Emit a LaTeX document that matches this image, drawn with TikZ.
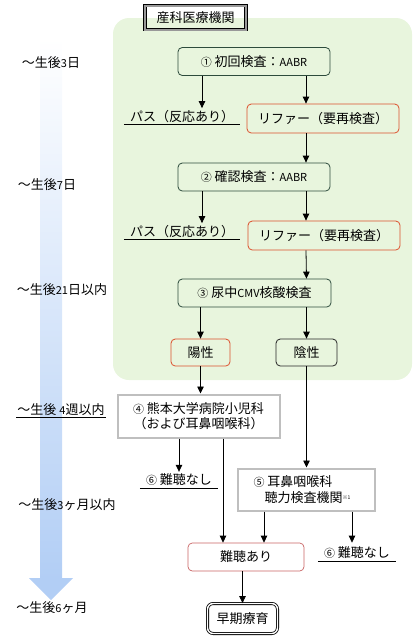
\documentclass[tikz,border=0pt]{standalone}
\usepackage{fontspec}
\setmainfont{Noto Sans CJK JP}
\usetikzlibrary{arrows.meta}
\usetikzlibrary{positioning}
\definecolor{zone}{RGB}{232,245,221}
\definecolor{checkline}{RGB}{45,75,60}
\definecolor{referline}{RGB}{220,80,45}
\definecolor{lossline}{RGB}{200,100,100}
\definecolor{timeblue}{RGB}{178,206,245}
\newcommand\sm[1]{{\fontsize{11}{12}\selectfont #1}}
\tikzset {
  % path style with an arrow at its end
  arr/.style = {
    draw = black,
    line width = 0.8pt,
    -{Triangle[length=7pt,width=6.5pt]}
  },
  % plain underline
  uline/.style = {
    draw = black,
    line width = 0.8pt
  }
}
\tikzset {
  box node/.style = {
    draw = black,
    line width = 0.8pt,
    inner sep = 0pt,
    font = \fontsize{13}{15.5}\selectfont
  },
  % examination steps
  check/.style = {
    box node,
    draw = checkline,
    rounded corners = 1.5mm,
    minimum width = 152pt,
    minimum height = 28pt
  },
  % result needing a retest
  refer/.style = {
    box node,
    draw = referline,
    rounded corners = 1.5mm,
    minimum width = 152pt,
    minimum height = 29pt
  },
  % hospital boxes
  clinic/.style = {
    box node,
    draw = black!25,
    line width = 2pt,
    align = center
  },
  % underlined text result
  pass/.style = {
    inner sep = 2pt,
    font = \fontsize{13}{15.5}\selectfont
  },
  % time scale label
  stage/.style = {
    inner sep = 1pt,
    font = \fontsize{13}{15.5}\selectfont
  }
}

\begin{document}
\begin{tikzpicture}[x=1pt, y=-1pt]
    \useasboundingbox (0,0) rectangle (418,640);

    % time arrow
    \shade[top color=white, bottom color=timeblue] (40,38) rectangle (62,579);
    \fill[timeblue] (29,578) -- (73,578) -- (51,600) -- cycle;

    % institution area
    \fill[zone, rounded corners=16pt] (113,18) rectangle (412,380);
    \node[box node, double=black!40, double distance=2pt, minimum width=101pt, minimum height=24pt] (inst) at (195.5,17.5) {産科医療機関};

    \node[stage] (t3d) at (51,63) {～生後\sm{3}日};
    \node[stage] (t7d) at (47,185) {～生後\sm{7}日};
    \node[stage] (t21d) at (62,290) {～生後\sm{21}日以内};
    \node[stage] (t4w) at (61,410) {～生後 \sm{4}週以内};
    \node[stage] (t3m) at (67,505) {～生後\sm{3}ヶ月以内};
    \node[stage] (t6m) at (52,608) {～生後\sm{6}ヶ月};
    \draw[uline] (t4w.south west) -- (t4w.south east);

    \node[check] (check1) at (254,61.5) {\sm{①} 初回検査：\sm{AABR}};
    \node[refer] (refer1) at (323,118.5) {リファー（要再検査）};
    \node[pass] (pass1) at (182,116.5) {パス（反応あり）};
    \node[check] (check2) at (254,177) {\sm{②} 確認検査：\sm{AABR}};
    \node[refer] (refer2) at (324,235.5) {リファー（要再検査）};
    \node[pass] (pass2) at (182,231.5) {パス（反応あり）};
    \node[check, minimum width=153pt] (check3) at (254.5,293) {\sm{③} 尿中\sm{CMV}核酸検査};
    \node[refer, minimum width=59pt, minimum height=27pt] (pos) at (200.5,352.5) {陽性};
    \node[check, draw=black!85, minimum width=61pt, minimum height=27pt] (neg) at (306.5,352.5) {陰性};

    \node[clinic, minimum width=162pt, minimum height=43pt] (hosp) at (198.5,416) {\sm{④} 熊本大学病院小児科\\（および耳鼻咽喉科）};
    \node[clinic, minimum width=137pt, minimum height=42pt] (ent) at (306,489.5) {\sm{⑤} 耳鼻咽喉科\phantom{聴力}\\\ 聴力検査機関\raisebox{3pt}{\fontsize{5}{5}\selectfont ※1}};
    \node[pass] (none1) at (179,480) {\sm{⑥} 難聴なし};
    \node[pass] (none2) at (357,553) {\sm{⑥} 難聴なし};
    \node[check, draw=lossline, line width=0.7pt, minimum width=116pt] (loss) at (246,557) {難聴あり};
    \node[box node, rounded corners=2mm, double=white, double distance=1.4pt, minimum width=70pt, minimum height=30pt] (early) at (242.5,618.5) {早期療育};

    \draw[uline] ([xshift=-4pt]pass1.south west) -- ([xshift=4pt]pass1.south east);
    \draw[uline] ([xshift=-4pt]pass2.south west) -- ([xshift=4pt]pass2.south east);
    \draw[uline] ([xshift=-4pt]none1.south west) -- ([xshift=4pt]none1.south east);
    \draw[uline] ([xshift=-4pt]none2.south west) -- ([xshift=4pt]none2.south east);

    \draw[arr] ([xshift=-52pt]check1.south) -- ([xshift=-52pt]check1.south |- pass1.north);
    \draw[arr] ([xshift=52pt]check1.south) -- ([xshift=52pt]check1.south |- refer1.north);
    \draw[arr] ([xshift=52pt]check1.south |- refer1.south) -- ([xshift=52pt]check2.north);
    \draw[arr] ([xshift=-52pt]check2.south) -- ([xshift=-52pt]check2.south |- pass2.north);
    \draw[arr] ([xshift=52pt]check2.south) -- ([xshift=52pt]check2.south |- refer2.north);
    \draw[arr] ([xshift=52pt]check2.south |- refer2.south) -- ([xshift=52pt]check3.north);
    \draw[arr] (pos.north |- check3.south) -- (pos.north);
    \draw[arr] (neg.north |- check3.south) -- (neg.north);

    \draw[arr] (pos.south) -- (pos.south |- hosp.north);
    \draw[arr] (neg.south) -- (neg.south |- ent.north);
    \draw[arr] (none1.north |- hosp.south) -- (none1.north);
    \draw[arr] ([xshift=24.5pt]hosp.south) -- ([xshift=24.5pt]hosp.south |- loss.north);
    \draw[arr] ([xshift=-42pt]ent.south) -- ([xshift=-42pt]ent.south |- loss.north);
    \draw[arr] ([xshift=46pt]ent.south) -- ([xshift=46pt]ent.south |- loss.north);
    \draw[arr] (loss.south -| early.north) -- (early.north);

  \end{tikzpicture}
\end{document}
